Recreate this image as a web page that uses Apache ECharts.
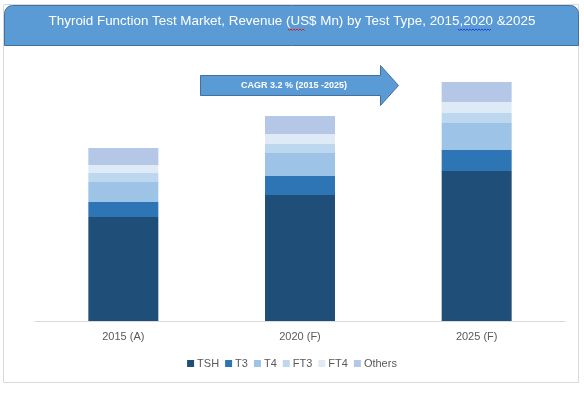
<!DOCTYPE html>
<html><head><meta charset="utf-8">
<script src="https://cdn.jsdelivr.net/npm/echarts@6/dist/echarts.min.js"></script>
<style>html,body{margin:0;padding:0;background:#fff}#c{width:584px;height:394px}</style>
</head><body><div id="c"></div>
<script>
const categories = ['2015 (A)', '2020 (F)', '2025 (F)'];
const seriesNames = ['TSH', 'T3', 'T4', 'FT3', 'FT4', 'Others'];
const TSH = [104, 126, 150];
const T3 = [15, 19, 21];
const T4 = [20, 23, 27];
const FT3 = [9, 9, 10];
const FT4 = [8, 10, 11];
const Others = [17, 18, 20];
const seriesValues = [TSH, T3, T4, FT3, FT4, Others];
const colors = ['#1f4e79', '#2e75b6', '#9dc3e6', '#bdd7ee', '#deebf7', '#b4c7e7'];
const titleText = 'Thyroid Function Test Market, Revenue (US$ Mn) by Test Type, 2015,2020 &2025';
const cagrText = 'CAGR 3.2 % (2015 -2025)';

function squiggle(x0, x1, y) {
  const pts = [];
  let up = true;
  for (let x = x0; x <= x1; x += 1.5) { pts.push([x, up ? y : y + 1.5]); up = !up; }
  return pts;
}

const chart = echarts.init(document.getElementById('c'), null, {renderer: 'canvas'});
const font = 'Liberation Sans';
chart.setOption({
  animation: false,
  textStyle: {fontFamily: font},
  grid: {left: 35, right: 19, top: 61, bottom: 73, containLabel: false},
  xAxis: {
    type: 'category', data: categories,
    axisLine: {lineStyle: {color: '#d9d9d9', width: 1}},
    axisTick: {show: false},
    axisLabel: {color: '#595959', fontSize: 11, margin: 10, fontFamily: font}
  },
  yAxis: {type: 'value', min: 0, max: 260, show: false, splitLine: {show: false}},
  legend: {
    bottom: 20, left: 'center', itemWidth: 7, itemHeight: 7, itemGap: 6,
    icon: 'rect',
    textStyle: {color: '#595959', fontSize: 11, fontFamily: font, padding: [0, 0, 0, -2]},
    data: seriesNames
  },
  series: seriesNames.map((n, i) => ({
    name: n, type: 'bar', stack: 'a', barWidth: 70,
    data: seriesValues[i],
    itemStyle: {color: colors[i]}
  })),
  graphic: [
    {type: 'rect', shape: {x: 3.5, y: 4.5, width: 575, height: 378}, style: {fill: 'none', stroke: '#d9d9d9', lineWidth: 1}, z: -1},
    {type: 'rect', shape: {x: 4.5, y: 5.5, width: 574, height: 40, r: [8, 8, 0, 0]}, style: {fill: '#5b9bd5', stroke: '#41719c', lineWidth: 1}},
    {type: 'text', left: 'center', top: 15, style: {text: titleText, fill: '#ffffff', fontSize: 13.4, fontFamily: font}},
    {type: 'polyline', shape: {points: squiggle(288, 305, 29)}, style: {stroke: '#e02020', lineWidth: 1, fill: null}},
    {type: 'polyline', shape: {points: squiggle(458, 492, 29)}, style: {stroke: '#2040e0', lineWidth: 1, fill: null}},
    {type: 'polygon', shape: {points: [[200.5, 75.5], [380.5, 75.5], [380.5, 65.5], [398.5, 85.5], [380.5, 105.5], [380.5, 95.5], [200.5, 95.5]]},
      style: {fill: '#5b9bd5', stroke: '#41719c', lineWidth: 1}},
    {type: 'text', x: 294, y: 86, style: {text: cagrText, fill: '#ffffff', fontSize: 9, fontWeight: 'bold', fontFamily: font, align: 'center', verticalAlign: 'middle'}}
  ]
});
</script></body></html>
